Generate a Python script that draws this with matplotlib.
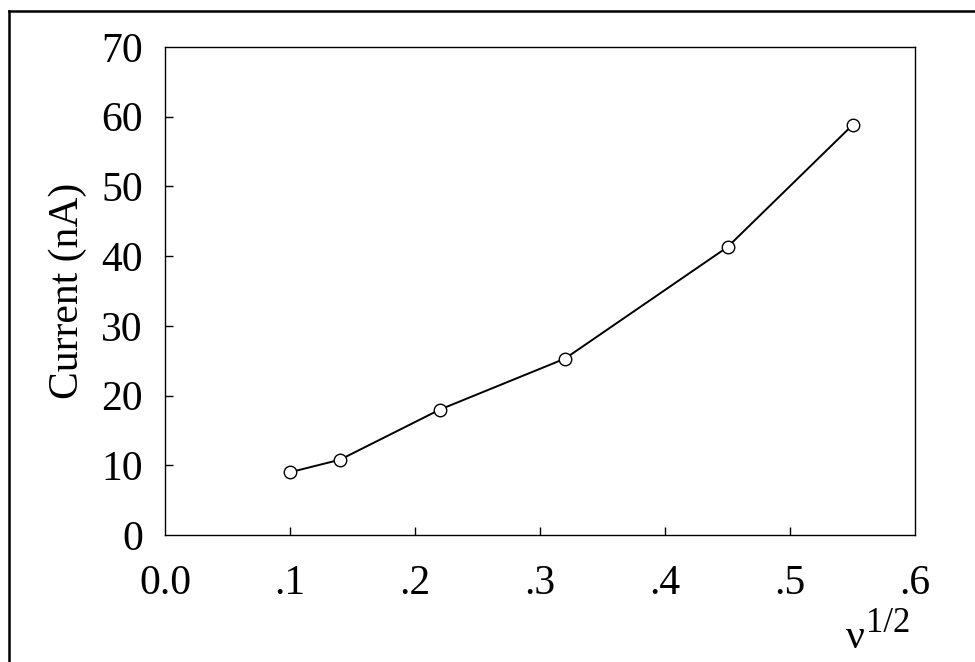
import matplotlib
matplotlib.use("Agg")
import matplotlib.pyplot as plt
from matplotlib.lines import Line2D

# square root of scan rate vs. peak current
sqrt_scan_rate = [0.10, 0.14, 0.22, 0.32, 0.45, 0.55]
current_nA = [9.0, 10.8, 18.0, 25.3, 41.3, 58.8]

x_ticks = [0.0, 0.1, 0.2, 0.3, 0.4, 0.5, 0.6]
x_ticklabels = ["0.0", ".1", ".2", ".3", ".4", ".5", ".6"]
y_ticks = [0, 10, 20, 30, 40, 50, 60, 70]

plt.rcParams["font.family"] = ["Liberation Serif", "DejaVu Serif"]

fig = plt.figure(figsize=(9.75, 6.62), dpi=100)
ax = fig.add_axes([165 / 975, 1 - 535 / 662, 750 / 975, 488 / 662])

ax.plot(sqrt_scan_rate, current_nA, color="black", lw=1.4,
        marker="o", markersize=9, markerfacecolor="white",
        markeredgecolor="black", markeredgewidth=1.0)

ax.set_xlim(0, 0.6)
ax.set_ylim(0, 70)
ax.set_xticks(x_ticks)
ax.set_xticklabels(x_ticklabels)
ax.set_yticks(y_ticks)

ax.tick_params(direction="in", length=6, width=1.0, labelsize=30)
ax.tick_params(axis="x", pad=21)
ax.tick_params(axis="y", pad=16)
# no tick marks at the ends of the axes
for t in ax.xaxis.get_major_ticks()[:1] + ax.xaxis.get_major_ticks()[-1:]:
    t.tick1line.set_visible(False)
for t in ax.yaxis.get_major_ticks()[:1] + ax.yaxis.get_major_ticks()[-1:]:
    t.tick1line.set_visible(False)
for s in ax.spines.values():
    s.set_linewidth(1.0)

ax.set_ylabel("Current (nA)", fontsize=30, labelpad=10)

# x axis label: nu^(1/2) below the last tick label
fig.text(846 / 975, 1 - 648 / 662, "\u03bd", fontsize=30, ha="left", va="baseline")
fig.text(866 / 975, 1 - 632 / 662, "1/2", fontsize=25, ha="left", va="baseline")

# page frame lines (left and top)
fig.add_artist(Line2D([9 / 975, 9 / 975], [0, 1 - 11 / 662], color="black", lw=1.8))
fig.add_artist(Line2D([9 / 975, 1], [1 - 11 / 662, 1 - 11 / 662], color="black", lw=1.8))

fig.savefig("out.png", dpi=100)
